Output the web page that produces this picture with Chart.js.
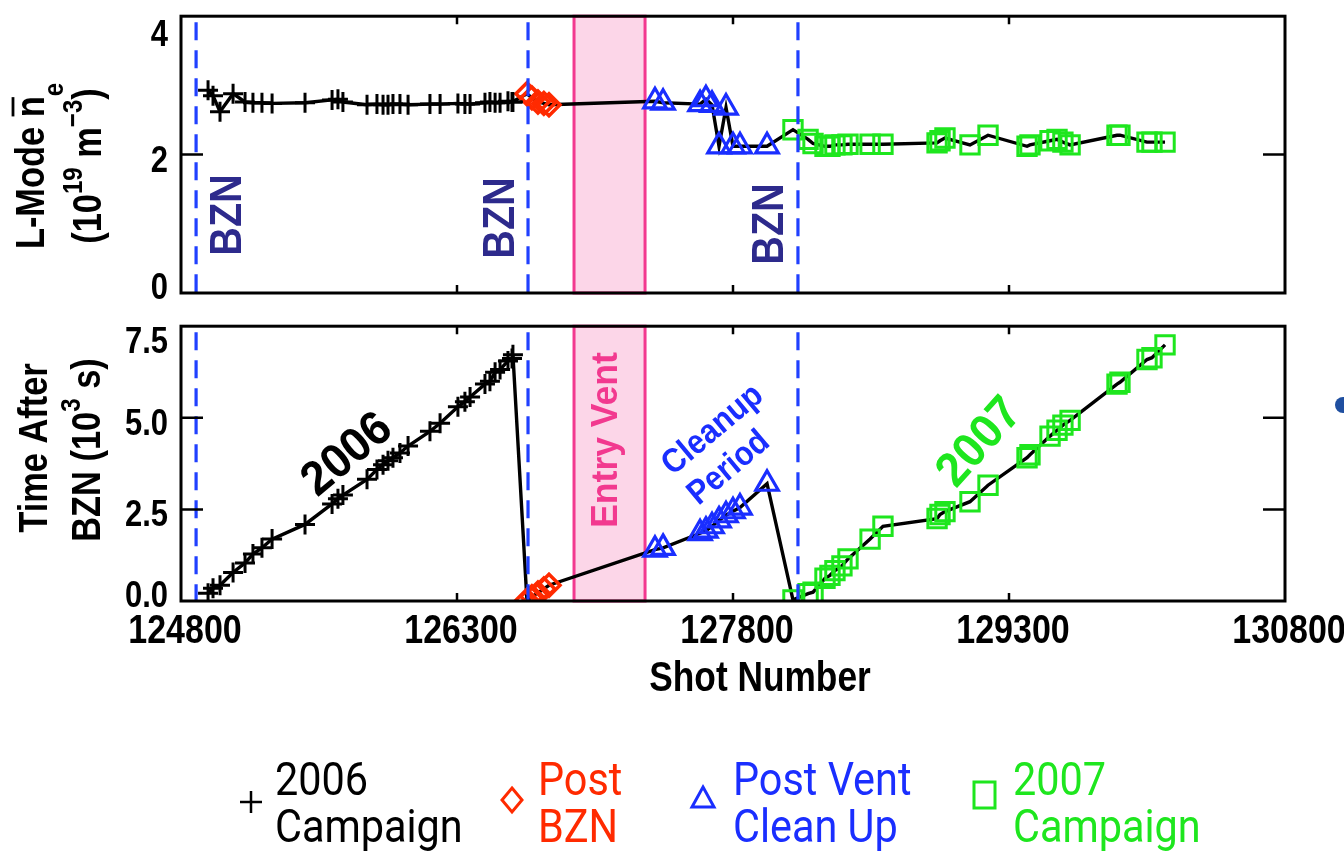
<!DOCTYPE html>
<html><head><meta charset="utf-8">
<script src="https://cdn.jsdelivr.net/npm/chart.js@4.4.1/dist/chart.umd.min.js"></script>
<style>
html,body{margin:0;padding:0;background:#fff;}
#wrap{position:relative;width:1344px;height:852px;overflow:hidden;background:#fff;}
#c1{position:absolute;left:0;top:0;}
#c2{position:absolute;left:0;top:310px;}
</style></head><body>
<div id="wrap"><canvas id="c1" width="1344" height="310"></canvas><canvas id="c2" width="1344" height="542"></canvas></div>
<script>
// ---------- data ----------
const xTicks = [124800, 126300, 127800, 129300, 130800];
const yTicksTop = [0, 2, 4];
const yTickLabelsTop = ['0', '2', '4'];
const yTicksBot = [0, 2.5, 5, 7.5];
const yTickLabelsBot = ['0.0', '2.5', '5.0', '7.5'];
const bznShots = [124882, 126686, 128153];
const ventRange = [126936, 127322];

const shots2006 = [124947, 124974, 125012, 125083, 125148, 125191, 125240, 125295, 125474, 125621, 125653, 125680, 125811, 125865, 125898, 125925, 125952, 125990, 126034, 126153, 126208, 126305, 126343, 126371, 126452, 126479, 126507, 126534, 126577, 126599, 126604];
const dens2006 = [2.93, 2.85, 2.62, 2.88, 2.76, 2.75, 2.75, 2.74, 2.75, 2.79, 2.80, 2.76, 2.72, 2.73, 2.72, 2.72, 2.73, 2.73, 2.72, 2.73, 2.73, 2.74, 2.73, 2.73, 2.75, 2.76, 2.75, 2.75, 2.77, 2.76, 2.76];
const time2006 = [0.21, 0.35, 0.43, 0.78, 1.04, 1.28, 1.45, 1.69, 2.09, 2.65, 2.79, 2.89, 3.32, 3.59, 3.72, 3.83, 3.91, 4.04, 4.23, 4.63, 4.85, 5.30, 5.44, 5.57, 5.92, 6.00, 6.24, 6.32, 6.55, 6.62, 6.72];

const shotsPost = [126680, 126707, 126740, 126772, 126800];
const densPost = [2.88, 2.82, 2.76, 2.74, 2.72];
const timePost = [0.02, 0.12, 0.22, 0.33, 0.43];

const shotsVent = [127376, 127420, 127621, 127653, 127686, 127724, 127762, 127800, 127838, 127985];
const densVent = [2.77, 2.75, 2.73, 2.80, 2.72, 2.12, 2.68, 2.12, 2.12, 2.12];
const timeVent = [1.40, 1.45, 1.85, 1.92, 2.04, 2.20, 2.34, 2.45, 2.55, 3.20];

const shots2007 = [128126, 128208, 128235, 128300, 128327, 128354, 128392, 128425, 128545, 128615, 128909, 128925, 128952, 129088, 129186, 129398, 129414, 129523, 129561, 129593, 129632, 129887, 129903, 130050, 130077, 130148];
const dens2007 = [2.36, 2.22, 2.16, 2.12, 2.12, 2.14, 2.14, 2.15, 2.15, 2.15, 2.17, 2.20, 2.24, 2.14, 2.28, 2.12, 2.14, 2.20, 2.22, 2.18, 2.14, 2.28, 2.28, 2.18, 2.18, 2.18];
const time2007 = [0.03, 0.20, 0.24, 0.62, 0.70, 0.83, 0.96, 1.15, 1.69, 2.04, 2.25, 2.36, 2.44, 2.71, 3.16, 3.91, 3.99, 4.50, 4.66, 4.80, 4.93, 5.92, 5.97, 6.59, 6.64, 6.99];

// ---------- styles ----------
const C_BLACK = '#000000', C_RED = '#ff2a00', C_BLUE = '#1a2eff', C_GREEN = '#1ee61e';
const C_DASH = '#2040ff', C_BZN = '#2d2a8c', C_PINK = '#f2398f', C_PINKFILL = '#fcd6e8';
const FB = '"Liberation Sans", Arial, Helvetica, sans-serif';
const FL = 'Roboto, "Liberation Sans", sans-serif';
const OFF = 310;

function pts(xs, ys) { return xs.map((x, i) => ({x: x, y: ys[i]})); }

function T(ctx, s, x, y, o) {
  o = o || {};
  const size = o.size || 40;
  ctx.save();
  ctx.translate(x, y);
  if (o.rot) ctx.rotate(o.rot);
  ctx.scale(o.sx || 1, 1);
  ctx.font = (o.weight || 'bold') + ' ' + size + 'px ' + (o.fam || FB);
  ctx.fillStyle = o.color || '#000';
  ctx.textAlign = o.align || 'center';
  ctx.textBaseline = 'alphabetic';
  const dy = (o.base === 'baseline') ? 0 : 0.36 * size;
  ctx.fillText(s, 0, dy);
  ctx.restore();
}

function runs(ctx, x, y, rot, sx, parts, color) {
  ctx.save();
  ctx.translate(x, y); ctx.rotate(rot); ctx.scale(sx, 1);
  ctx.fillStyle = color; ctx.strokeStyle = color;
  ctx.textBaseline = 'alphabetic'; ctx.textAlign = 'left';
  let total = 0;
  parts.forEach(p => { ctx.font = 'bold ' + p.s + 'px ' + FB; p.w = ctx.measureText(p.t).width; total += p.w; });
  let u = -total / 2;
  parts.forEach(p => {
    ctx.font = 'bold ' + p.s + 'px ' + FB;
    ctx.fillText(p.t, u, p.dy || 0);
    if (p.over) {
      ctx.lineWidth = 2.8; ctx.beginPath();
      ctx.moveTo(u + 1, p.over); ctx.lineTo(u + p.w - 1, p.over); ctx.stroke();
    }
    u += p.w;
  });
  ctx.restore();
}

function datasets(yTop) {
  const all = pts(shots2006, yTop[0]).concat(pts(shotsPost, yTop[1]), pts(shotsVent, yTop[2]), pts(shots2007, yTop[3]));
  return [
    {data: pts(shots2006, yTop[0]), showLine: false, pointStyle: 'cross', pointRadius: 10, pointBorderWidth: 3, pointBorderColor: C_BLACK, pointBackgroundColor: 'rgba(0,0,0,0)', order: 1},
    {data: pts(shotsPost, yTop[1]), showLine: false, pointStyle: 'rectRot', pointRadius: 11, pointBorderWidth: 3.5, pointBorderColor: C_RED, pointBackgroundColor: 'rgba(0,0,0,0)', order: 1},
    {data: pts(shotsVent, yTop[2]), showLine: false, pointStyle: 'triangle', pointRadius: 13, pointBorderWidth: 3.2, pointBorderColor: C_BLUE, pointBackgroundColor: 'rgba(0,0,0,0)', order: 1},
    {data: pts(shots2007, yTop[3]), showLine: false, pointStyle: 'rect', pointRadius: 13, pointBorderWidth: 3, pointBorderColor: C_GREEN, pointBackgroundColor: 'rgba(0,0,0,0)', order: 1},
    {data: all, showLine: true, borderColor: C_BLACK, borderWidth: 3.4, pointRadius: 0, tension: 0, order: 5}
  ];
}

function bandPlugin() {
  return {
    id: 'band',
    beforeDatasetsDraw(chart) {
      const ctx = chart.ctx, a = chart.chartArea, xs = chart.scales.x;
      const x0 = xs.getPixelForValue(ventRange[0]), x1 = xs.getPixelForValue(ventRange[1]);
      ctx.save();
      ctx.fillStyle = C_PINKFILL; ctx.fillRect(x0, a.top, x1 - x0, a.bottom - a.top);
      ctx.strokeStyle = C_PINK; ctx.lineWidth = 3; ctx.strokeRect(x0, a.top, x1 - x0, a.bottom - a.top);
      ctx.restore();
    }
  };
}

function framePlugin(yTicks, yLabels, clampTop, clampBot, extra) {
  return {
    id: 'frame',
    afterDatasetsDraw(chart) {
      const ctx = chart.ctx, a = chart.chartArea, xs = chart.scales.x, ys = chart.scales.y;
      ctx.save();
      // dashed BZN lines
      ctx.setLineDash([18, 10]); ctx.lineDashOffset = -6;
      ctx.strokeStyle = C_DASH; ctx.lineWidth = 3.2;
      bznShots.forEach(b => {
        const px = xs.getPixelForValue(b);
        ctx.beginPath(); ctx.moveTo(px, a.top); ctx.lineTo(px, a.bottom); ctx.stroke();
      });
      ctx.setLineDash([]);
      // frame
      ctx.strokeStyle = '#000'; ctx.lineWidth = 3;
      ctx.strokeRect(a.left, a.top, a.right - a.left, a.bottom - a.top);
      // ticks
      ctx.lineWidth = 2.5;
      xTicks.slice(1, -1).forEach(v => {
        const px = xs.getPixelForValue(v);
        ctx.beginPath(); ctx.moveTo(px, a.bottom); ctx.lineTo(px, a.bottom - 8);
        ctx.moveTo(px, a.top); ctx.lineTo(px, a.top + 8); ctx.stroke();
      });
      yTicks.slice(1, -1).forEach(v => {
        const py = ys.getPixelForValue(v);
        ctx.beginPath(); ctx.moveTo(a.left, py); ctx.lineTo(a.left + 22, py);
        ctx.moveTo(a.right, py); ctx.lineTo(a.right - 22, py); ctx.stroke();
      });
      // y tick labels
      yTicks.forEach((v, i) => {
        let py = ys.getPixelForValue(v) + 4;
        py = Math.max(a.top + clampTop, Math.min(a.bottom - clampBot, py));
        T(ctx, yLabels[i], 168, py, {size: 36, sx: 0.86, align: 'right'});
      });
      ctx.restore();
      extra(chart, ctx);
    }
  };
}

function baseOptions(ymin, ymax, padTop, xHeight) {
  return {
    responsive: false, animation: false, events: [],
    layout: {padding: {left: 0, right: 59, top: padTop, bottom: 0}},
    plugins: {legend: {display: false}, tooltip: {enabled: false}},
    scales: {
      x: {type: 'linear', min: xTicks[0], max: xTicks[xTicks.length - 1], ticks: {display: false}, grid: {display: false}, border: {display: false},
          afterFit: s => { s.height = xHeight; }},
      y: {type: 'linear', min: ymin, max: ymax, ticks: {display: false}, grid: {display: false}, border: {display: false},
          afterFit: s => { s.width = 181; }}
    }
  };
}

// ---------- top chart ----------
new Chart(document.getElementById('c1'), {
  type: 'scatter',
  data: {datasets: datasets([dens2006, densPost, densVent, dens2007])},
  options: baseOptions(0, 4, 13, 17),
  plugins: [bandPlugin(), framePlugin(yTicksTop, yTickLabelsTop, 17, 7, (chart, ctx) => {
    // y title
    runs(ctx, 44, 166, -Math.PI / 2, 0.86, [
      {t: 'L-Mode ', s: 40}, {t: 'n', s: 40, over: -31}, {t: 'e', s: 28, dy: 19}
    ], '#000');
    runs(ctx, 101, 166, -Math.PI / 2, 0.86, [
      {t: '(10', s: 40}, {t: '19', s: 28, dy: -19}, {t: ' m', s: 40}, {t: '\u22123', s: 28, dy: -19}, {t: ')', s: 40}
    ], '#000');
    // BZN labels
    T(ctx, 'BZN', 225, 215, {size: 44, sx: 0.9, rot: -Math.PI / 2, color: C_BZN});
    T(ctx, 'BZN', 498, 218, {size: 44, sx: 0.9, rot: -Math.PI / 2, color: C_BZN});
    T(ctx, 'BZN', 767, 224, {size: 44, sx: 0.9, rot: -Math.PI / 2, color: C_BZN});
  })]
});

// ---------- bottom chart ----------
new Chart(document.getElementById('c2'), {
  type: 'scatter',
  data: {datasets: datasets([time2006, timePost, timeVent, time2007])},
  options: baseOptions(0, 7.5, 11, 251),
  plugins: [bandPlugin(), framePlugin(yTicksBot, yTickLabelsBot, 14, 7, (chart, ctx) => {
    const xs = chart.scales.x;
    // x tick labels
    xTicks.forEach(v => {
      T(ctx, String(v), xs.getPixelForValue(v) + 4, 643 - OFF, {size: 40, sx: 0.85, base: 'baseline'});
    });
    T(ctx, 'Shot Number', 760, 691 - OFF, {size: 42, sx: 0.84, base: 'baseline'});
    // y title
    runs(ctx, 47, 448 - OFF, -Math.PI / 2, 0.86, [{t: 'Time After', s: 40}], '#000');
    runs(ctx, 100, 450 - OFF, -Math.PI / 2, 0.86, [
      {t: 'BZN (10', s: 40}, {t: '3', s: 28, dy: -20}, {t: ' s)', s: 40}
    ], '#000');
    // annotations
    T(ctx, '2006', 345, 452 - OFF, {size: 48, sx: 0.95, rot: -40 * Math.PI / 180, color: '#000'});
    T(ctx, 'Entry Vent', 604, 440 - OFF, {size: 37, sx: 0.96, rot: -Math.PI / 2, color: C_PINK});
    T(ctx, 'Cleanup', 711, 428 - OFF, {size: 34, sx: 0.9, rot: -40 * Math.PI / 180, color: C_BLUE});
    T(ctx, 'Period', 727, 466 - OFF, {size: 34, sx: 0.9, rot: -40 * Math.PI / 180, color: C_BLUE});
    T(ctx, '2007', 977, 440 - OFF, {size: 48, sx: 0.95, rot: -48 * Math.PI / 180, color: C_GREEN});
    // stray dot at right edge
    ctx.save(); ctx.fillStyle = '#1f4fa0';
    ctx.beginPath(); ctx.arc(1343, 405 - OFF, 8, 0, Math.PI * 2); ctx.fill(); ctx.restore();
    // legend
    ctx.save();
    ctx.lineWidth = 2.5; ctx.strokeStyle = C_BLACK;
    ctx.beginPath(); ctx.moveTo(240, 802 - OFF); ctx.lineTo(262, 802 - OFF);
    ctx.moveTo(251, 791 - OFF); ctx.lineTo(251, 813 - OFF); ctx.stroke();
    ctx.lineWidth = 3; ctx.strokeStyle = C_RED;
    ctx.beginPath(); ctx.moveTo(512, 788 - OFF); ctx.lineTo(522, 800 - OFF); ctx.lineTo(512, 812 - OFF); ctx.lineTo(502, 800 - OFF); ctx.closePath(); ctx.stroke();
    ctx.strokeStyle = C_BLUE;
    ctx.beginPath(); ctx.moveTo(703, 787 - OFF); ctx.lineTo(714, 807 - OFF); ctx.lineTo(692, 807 - OFF); ctx.closePath(); ctx.stroke();
    ctx.strokeStyle = C_GREEN;
    ctx.strokeRect(974, 782 - OFF, 21, 26);
    ctx.restore();
    const lg = [
      [275, '2006', 'Campaign', C_BLACK],
      [538, 'Post', 'BZN', C_RED],
      [733, 'Post Vent', 'Clean Up', C_BLUE],
      [1013, '2007', 'Campaign', C_GREEN]
    ];
    lg.forEach(l => {
      T(ctx, l[1], l[0], 795 - OFF, {size: 46, sx: 0.9, weight: 'normal', fam: FL, align: 'left', base: 'baseline', color: l[3]});
      T(ctx, l[2], l[0], 842 - OFF, {size: 46, sx: 0.9, weight: 'normal', fam: FL, align: 'left', base: 'baseline', color: l[3]});
    });
  })]
});
</script>
</body></html>
